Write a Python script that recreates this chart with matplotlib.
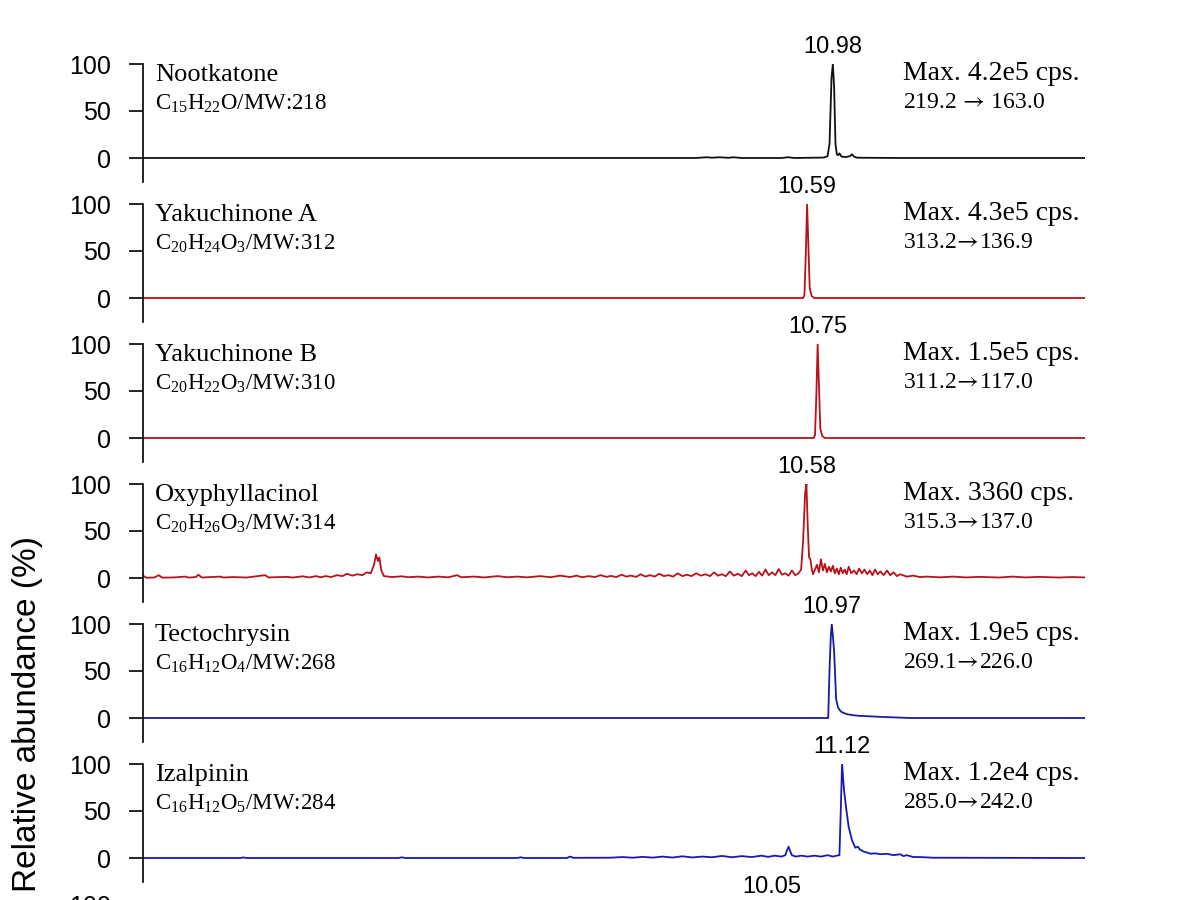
import matplotlib

matplotlib.use("Agg")
import matplotlib.pyplot as plt

# ---- data (time in min, relative abundance in %)
names = ["Nootkatone", "Yakuchinone A", "Yakuchinone B", "Oxyphyllacinol",
         "Tectochrysin", "Izalpinin"]
formulas = [r"$\mathrm{C_{15}H_{22}O}$/MW:218",
            r"$\mathrm{C_{20}H_{24}O_{3}}$/MW:312",
            r"$\mathrm{C_{20}H_{22}O_{3}}$/MW:310",
            r"$\mathrm{C_{20}H_{26}O_{3}}$/MW:314",
            r"$\mathrm{C_{16}H_{12}O_{4}}$/MW:268",
            r"$\mathrm{C_{16}H_{12}O_{5}}$/MW:284"]
max_cps = ["Max. 4.2e5 cps.", "Max. 4.3e5 cps.", "Max. 1.5e5 cps.",
           "Max. 3360 cps.", "Max. 1.9e5 cps.", "Max. 1.2e4 cps."]
transitions = [("219.2 ", " 163.0"), ("313.2", "136.9"), ("311.2", "117.0"),
               ("315.3", "137.0"), ("269.1", "226.0"), ("285.0", "242.0")]
peak_rt = [10.98, 10.59, 10.75, 10.58, 10.97, 11.12]
colors = ["#111111", "#b8121a", "#b8121a", "#b8121a", "#1a1a9c", "#1818b8"]

t_noot = [0.53, 5.0, 8.9, 9.07, 9.15, 9.25, 9.4, 9.47, 9.6, 10.2, 10.3, 10.4,
          10.85, 10.9, 10.93, 10.96, 10.98, 11.0, 11.02, 11.04, 11.06, 11.08,
          11.11, 11.18, 11.24, 11.27, 11.3, 11.35, 12.0, 14.8]
y_noot = [0, 0, 0, 0.8, 0.3, 0.8, 0.2, 0.8, 0, 0, 0.8, 0,
          0.5, 2, 15, 85, 100, 75, 15, 4, 3, 5,
          1.5, 1, 2, 4, 1.5, 0.3, 0, 0]

t_yaka = [0.53, 10.53, 10.55, 10.57, 10.59, 10.61, 10.63, 10.66, 10.70, 14.8]
y_yaka = [0, 0, 3, 45, 100, 55, 10, 2, 0, 0]

t_yakb = [0.53, 10.69, 10.71, 10.73, 10.75, 10.77, 10.79, 10.82, 10.86, 14.8]
y_yakb = [0, 0, 3, 45, 100, 55, 10, 2, 0, 0]

t_oxy = [0.53, 0.58, 0.70, 0.77, 0.82, 1.00, 1.17, 1.22, 1.33, 1.37, 1.42,
         1.70, 1.75, 1.89, 2.10, 2.38, 2.43, 2.71, 2.80, 2.95, 3.05, 3.15,
         3.22, 3.30, 3.38, 3.47, 3.55, 3.62, 3.70, 3.78, 3.85, 3.92, 3.98,
         4.03, 4.06, 4.09, 4.11, 4.14, 4.18, 4.30, 4.45, 4.55, 4.70, 4.85,
         5.00, 5.15, 5.29, 5.35, 5.55, 5.70, 5.90, 6.05, 6.20, 6.35, 6.55,
         6.70, 6.85, 7.00, 7.10, 7.18, 7.28, 7.38, 7.46, 7.55, 7.62, 7.70,
         7.78, 7.85, 7.92, 8.00, 8.07, 8.14, 8.21, 8.28, 8.35, 8.42, 8.49,
         8.56, 8.63, 8.70, 8.77, 8.84, 8.91, 8.98, 9.05, 9.12, 9.18, 9.24,
         9.30, 9.36, 9.42, 9.48, 9.54, 9.60, 9.66, 9.71, 9.76, 9.81, 9.86,
         9.91, 9.96, 10.01, 10.06, 10.11, 10.16, 10.21, 10.26, 10.31, 10.36,
         10.41, 10.46, 10.50, 10.53, 10.56, 10.58, 10.60, 10.62, 10.64,
         10.66, 10.68, 10.71, 10.74, 10.77, 10.80, 10.83, 10.86, 10.89,
         10.92, 10.95, 10.98, 11.01, 11.04, 11.07, 11.10, 11.13, 11.16,
         11.19, 11.22, 11.26, 11.30, 11.34, 11.38, 11.42, 11.46, 11.50,
         11.54, 11.58, 11.62, 11.66, 11.70, 11.75, 11.80, 11.85, 11.90,
         11.95, 12.00, 12.10, 12.20, 12.30, 12.40, 12.60, 12.80, 13.00,
         13.20, 13.50, 13.70, 13.90, 14.10, 14.40, 14.60, 14.80]
y_oxy = [2.5, 0.3, 0.5, 3, 0.4, 0.6, 1.5, 0.4, 1, 3.5, 0.5,
         1.5, 0.5, 1, 0.5, 3, 0.6, 1.2, 0.5, 1.8, 0.6, 2,
         0.8, 2, 1, 3, 2, 4.5, 2.5, 4, 3, 6, 5,
         14, 25, 18, 22, 8, 2, 1, 1.8, 0.8, 1.5, 0.6,
         1.5, 0.7, 3, 0.8, 1.5, 0.6, 2, 0.8, 1.5, 0.7, 2,
         0.8, 2.5, 1, 2.5, 0.8, 2, 1, 3, 1.2, 2.2, 1,
         3.5, 1.5, 2.5, 1.2, 4, 1.5, 3, 1.5, 4.5, 2, 3,
         1.5, 5, 2, 3.5, 2, 5, 2.5, 4, 2, 6, 2.5,
         4, 2, 7, 2.5, 4.5, 2, 8, 3, 5, 2, 6.5,
         2.5, 9, 3, 6, 3, 9.5, 3.5, 5, 2.5, 8,
         3, 5, 9, 40, 90, 100, 55, 22, 20,
         10, 4, 9, 14, 6, 20, 8, 15, 6,
         12, 7, 13, 5, 10, 4, 11, 5, 9,
         4, 12, 5, 8, 4, 10, 5, 9, 4,
         8, 3, 9, 4, 7, 3, 8, 3, 6,
         2, 4, 1.5, 2.5, 1, 1.5, 0.7, 1.5, 0.6,
         1.2, 0.5, 1.5, 0.6, 1.2, 0.5, 1, 0.6]

t_tect = [0.53, 10.91, 10.93, 10.95, 10.964, 10.98, 11.0, 11.03, 11.06,
          11.10, 11.14, 11.20, 11.29, 11.40, 11.54, 11.70, 11.89, 12.15, 14.8]
y_tect = [0, 0, 52, 88, 100, 88, 70, 20, 11, 7, 5.4, 4, 2.9, 2.2, 1.8, 1.2,
          0.7, 0, 0]

t_izal = [0.53, 2.0, 2.05, 2.1, 4.4, 4.45, 4.5, 6.2, 6.25, 6.3, 6.95, 7.0,
          7.05, 7.6, 7.8, 7.95, 8.1, 8.25, 8.4, 8.55, 8.7, 8.85, 9.0, 9.15,
          9.3, 9.45, 9.6, 9.75, 9.9, 10.0, 10.1, 10.2, 10.26, 10.29, 10.31,
          10.33, 10.36, 10.42, 10.5, 10.6, 10.7, 10.8, 10.9, 10.98, 11.04,
          11.08, 11.10, 11.12, 11.15, 11.18, 11.22, 11.27, 11.32, 11.36,
          11.39, 11.44, 11.49, 11.55, 11.62, 11.70, 11.8, 11.9, 12.0, 12.05,
          12.1, 12.2, 12.3, 12.5, 14.8]
y_izal = [0, 0, 0.6, 0, 0, 0.7, 0, 0, 0.8, 0, 0, 1.5,
          0.2, 0.3, 1, 0.3, 1.2, 0.4, 1.5, 0.5, 1.8, 0.6, 1.5, 0.8,
          2.2, 0.8, 2, 1, 2.5, 1.2, 2.5, 1.5, 3, 9, 12,
          8, 3, 1.5, 2.5, 1.5, 2.5, 1.5, 3, 1.5, 2.5,
          3, 50, 100, 72, 54, 33, 19, 11, 12,
          9, 7, 6, 4.5, 5, 4, 4.5, 3, 4, 2,
          3, 1, 1, 0.3, 0]

traces = [(t_noot, y_noot), (t_yaka, y_yaka), (t_yakb, y_yakb),
          (t_oxy, y_oxy), (t_tect, y_tect), (t_izal, y_izal)]

# next panel below is cut off by the frame; only its peak label shows
cut_peak_rt = 10.05

plt.rcParams["mathtext.fontset"] = "custom"
plt.rcParams["mathtext.rm"] = "Liberation Serif"
plt.rcParams["mathtext.it"] = "Liberation Serif:italic"
plt.rcParams["mathtext.sf"] = "STIXGeneral"

SANS = ["Liberation Sans", "DejaVu Sans"]
SERIF = ["Liberation Serif", "DejaVu Serif"]

W, H = 1200, 900
fig = plt.figure(figsize=(12, 9), dpi=100)

x_left, x_right = 143, 1085
top0, pitch, px100 = 64, 140, 94
ymin = -25
ax_h = px100 * (100 - ymin) / 100


def panel(i):
    y100 = top0 + pitch * i
    ax = fig.add_axes([x_left / W, 1 - (y100 + ax_h) / H,
                       (x_right - x_left) / W, ax_h / H])
    ax.set_xlim(0.53, 14.8)
    ax.set_ylim(ymin, 100)
    for s in ("top", "right", "bottom"):
        ax.spines[s].set_visible(False)
    ax.spines["left"].set_linewidth(1.2)
    ax.set_xticks([])
    ax.set_yticks([0, 50, 100])
    ax.tick_params(axis="y", direction="out", length=10, width=1.2, pad=13,
                   labelsize=18)
    for lab in ax.get_yticklabels():
        lab.set_fontfamily(SANS)
    ax.patch.set_visible(False)
    return ax, y100


for i in range(len(names)):
    ax, y100 = panel(i)
    t, y = traces[i]
    ax.plot(t, y, color=colors[i], lw=1.3)
    ax.annotate(f"{peak_rt[i]:.2f}", xy=(peak_rt[i], 100), xytext=(0, 8),
                textcoords="offset points", ha="center", va="baseline",
                fontsize=17, family=SANS)
    fig.text(155 / W, 1 - (y100 + 17) / H, names[i], fontsize=19,
             family=SERIF, va="baseline")
    fig.text(155 / W, 1 - (y100 + 46) / H, formulas[i], fontsize=16.5,
             family=SERIF, va="baseline")
    fig.text(903 / W, 1 - (y100 + 16) / H, max_cps[i], fontsize=20,
             family=SERIF, va="baseline")
    a, b = transitions[i]
    fig.text(903 / W, 1 - (y100 + 44) / H,
             a + r"$\mathsf{\!\rightarrow\!}$" + b, fontsize=17,
             family=SERIF, va="baseline")

ax, y100 = panel(len(names))
ax.annotate(f"{cut_peak_rt:.2f}", xy=(cut_peak_rt, 100), xytext=(0, 8),
            textcoords="offset points", ha="center", va="baseline",
            fontsize=17, family=SANS)

fig.text(28 / W, 1 - 714 / H, "Relative abundance (%)", rotation=90,
         fontsize=24, family=SANS, ha="center", va="center")

fig.savefig("out.png", dpi=100, facecolor="white")
